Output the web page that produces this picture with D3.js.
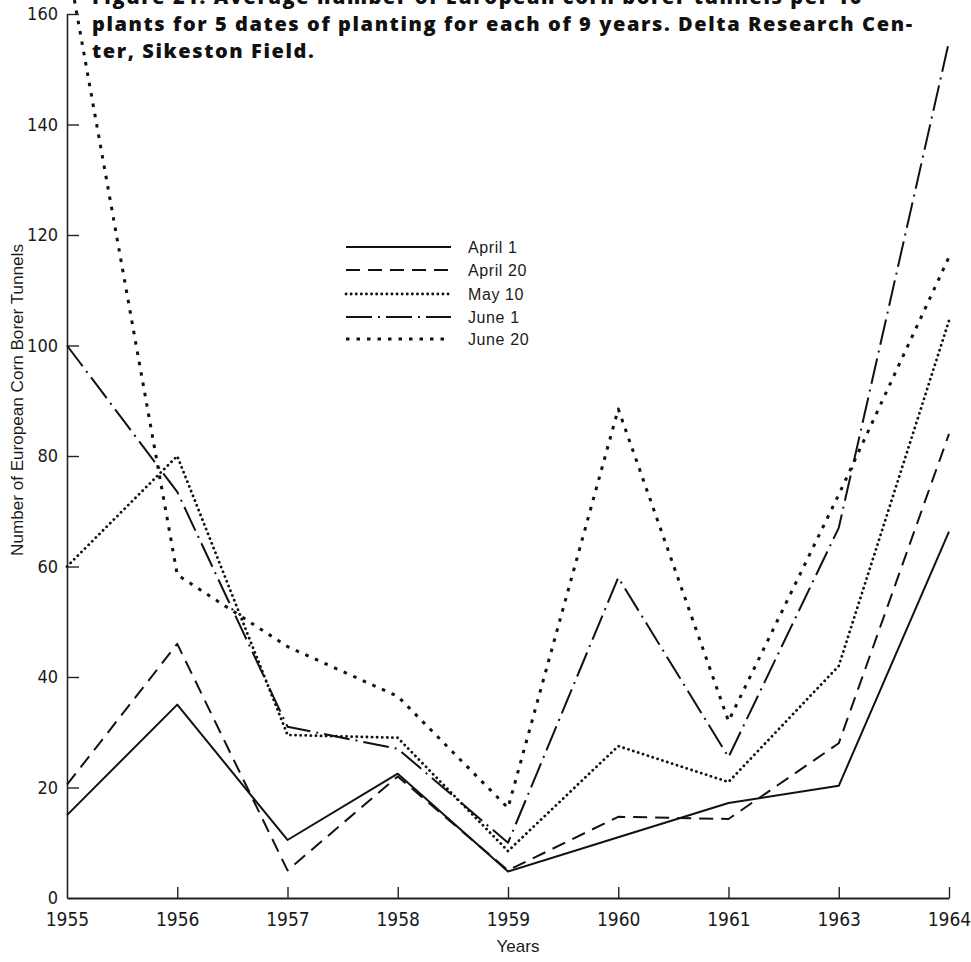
<!DOCTYPE html>
<html>
<head>
<meta charset="utf-8">
<script src="https://cdn.jsdelivr.net/npm/d3@7"></script>
<style>
  html, body { margin: 0; padding: 0; background: #fff; }
  svg { display: block; }
  .tick text { font-family: "Liberation Sans Narrow", "DejaVu Sans Condensed", "Liberation Sans", sans-serif; fill: #1a1a1a; }
</style>
</head>
<body>
<script>
// Planting years (1962 was not sampled)
const years = ["1955", "1956", "1957", "1958", "1959", "1960", "1961", "1963", "1964"];

// Tunnels per 10 plants, one array per planting date
const april1  = [15, 35, 10.5, 22.5, 4.8, 11, 17.2, 20.3, 66.3];
const april20 = [20.5, 46, 5, 22, 5, 14.7, 14.3, 28, 84];
const may10   = [60, 80, 29.5, 29, 8.5, 27.5, 21, 42, 104.5];
const june1   = [100, 73.5, 31, 27, 10, 58, 25.5, 67, 155];
const june20  = [170, 58.5, 45.5, 36.5, 16.3, 88.5, 32, 73, 116];

const seriesNames = ["April 1", "April 20", "May 10", "June 1", "June 20"];
const yTicks = [0, 20, 40, 60, 80, 100, 120, 140, 160];

const titleLines = [
  "Figure 21. Average number of European corn borer tunnels per 10",
  "plants for 5 dates of planting for each of 9 years. Delta Research Cen-",
  "ter, Sikeston Field."
];
const yTitle = "Number of European Corn Borer Tunnels";
const xTitle = "Years";

const series = [april1, april20, may10, june1, june20].map((v, i) => ({ name: seriesNames[i], values: v }));

// line styles per planting date
const styles = {
  "April 1":  { dash: null,          width: 2,   cap: "butt" },
  "April 20": { dash: "14,8",        width: 2,   cap: "butt" },
  "May 10":   { dash: "0.1,5",       width: 2.8, cap: "round" },
  "June 1":   { dash: "26,6,2,6",    width: 2,   cap: "butt" },
  "June 20":  { dash: "3.5,7",       width: 3,   cap: "butt" }
};

const plainFont = "'Liberation Sans', 'DejaVu Sans', sans-serif";

const W = 971, H = 962;
const svg = d3.select("body").append("svg").attr("width", W).attr("height", H);
svg.append("rect").attr("width", W).attr("height", H).attr("fill", "#fff");

const x = d3.scalePoint().domain(years).range([67, 949]);
const y = d3.scaleLinear().domain([0, 160]).range([898, 14]);

// title (bold; the first line runs off the top edge)
const title = svg.append("g")
  .style("font-family", "'Open Sans', 'DejaVu Sans', sans-serif")
  .style("font-weight", 800)
  .style("font-size", "20px")
  .attr("fill", "#111");
const tl = title.selectAll("text").data(titleLines).join("text")
  .attr("x", 92)
  .attr("y", (d, i) => 4 + i * 27)
  .text(d => d);
// spread the letters so the full middle line spans the block width
const midNode = tl.nodes()[1];
const midLen = midNode.getComputedTextLength();
const ls = Math.max(0, (820 - midLen) / (titleLines[1].length - 1));
tl.style("letter-spacing", ls + "px");

// y axis with inward ticks
const yAxis = svg.append("g")
  .attr("transform", `translate(${x(years[0])},0)`)
  .call(d3.axisLeft(y).tickValues(yTicks).tickSizeInner(-12).tickSizeOuter(0).tickPadding(9)
    .tickFormat(d3.format("d")));
yAxis.select(".domain").attr("stroke", "#222").attr("stroke-width", 1.6);
yAxis.selectAll(".tick line").attr("stroke", "#222").attr("stroke-width", 1.4)
  .filter(d => d === 0).remove();
yAxis.selectAll(".tick text").attr("font-size", 18);

// x axis with upward ticks
const xAxis = svg.append("g")
  .attr("transform", `translate(0,${y(0)})`)
  .call(d3.axisBottom(x).tickSizeInner(-11).tickSizeOuter(0).tickPadding(15));
xAxis.select(".domain").attr("stroke", "#222").attr("stroke-width", 2);
xAxis.selectAll(".tick line").attr("stroke", "#222").attr("stroke-width", 1.4)
  .filter(d => d === years[0]).remove();
xAxis.selectAll(".tick text").attr("font-size", 19);

// axis titles
const yt = svg.append("text")
  .attr("transform", "translate(23,400) rotate(-90)")
  .attr("text-anchor", "middle")
  .attr("fill", "#1a1a1a")
  .style("font-family", plainFont)
  .style("font-size", "16px")
  .text(yTitle);
const ytLen = yt.node().getComputedTextLength();
yt.style("font-size", (16 * 312 / ytLen) + "px");

svg.append("text")
  .attr("x", 518).attr("y", 952)
  .attr("text-anchor", "middle")
  .attr("fill", "#1a1a1a")
  .style("font-family", plainFont)
  .style("font-size", "17px")
  .text(xTitle);

// data lines
const line = d3.line()
  .x((d, i) => x(years[i]))
  .y(d => y(d));

svg.append("g").selectAll("path").data(series).join("path")
  .attr("d", d => line(d.values))
  .attr("fill", "none")
  .attr("stroke", "#111")
  .attr("stroke-width", d => styles[d.name].width)
  .attr("stroke-dasharray", d => styles[d.name].dash)
  .attr("stroke-linecap", d => styles[d.name].cap)
  .attr("stroke-linejoin", "round");

// legend
const legendRows = [247, 270, 294, 317, 339];
const lg = svg.append("g");
const rows = lg.selectAll("g").data(series).join("g")
  .attr("transform", (d, i) => `translate(0,${legendRows[i]})`);
rows.append("line")
  .attr("x1", 346).attr("x2", 451)
  .attr("stroke", "#111")
  .attr("stroke-width", d => styles[d.name].width)
  .attr("stroke-dasharray", d => styles[d.name].dash)
  .attr("stroke-linecap", d => styles[d.name].cap);
rows.append("text")
  .attr("x", 468).attr("y", 0).attr("dy", "0.35em")
  .attr("fill", "#1a1a1a")
  .style("font-family", plainFont)
  .style("font-size", "16px")
  .style("letter-spacing", "0.6px")
  .text(d => d.name);
</script>
</body>
</html>
